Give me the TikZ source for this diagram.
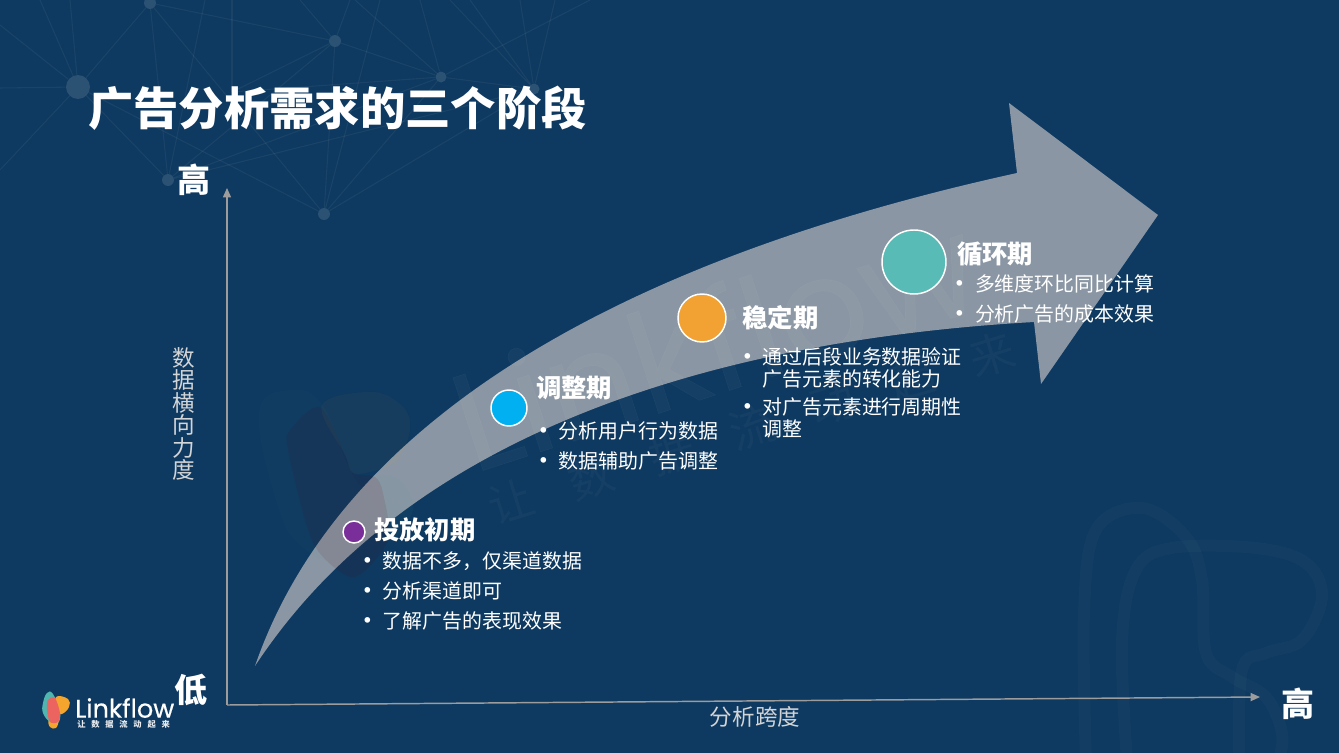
\documentclass[tikz,border=0pt]{standalone}
\usepackage{fontspec}
\setmainfont{Noto Sans CJK SC}
\newfontfamily\logofont[FakeBold=.5]{Poppins}
\newfontfamily\sloganfont[LetterSpace=70]{Noto Sans CJK SC}
\newfontfamily\marksloganfont[LetterSpace=85]{Noto Sans CJK SC}
\usetikzlibrary{positioning}
\usetikzlibrary{arrows.meta}
\definecolor{slidebg}{HTML}{0E3960}
\definecolor{bandgray}{HTML}{8A96A3}
\definecolor{axisgray}{HTML}{9C9C9C}
\definecolor{labelgray}{HTML}{D2D4D6}
\definecolor{stageone}{HTML}{7A2E9A}
\definecolor{stagetwo}{HTML}{00B0F0}
\definecolor{stagethree}{HTML}{F2A233}
\definecolor{stagefour}{HTML}{59BBB5}
\definecolor{logoteal}{HTML}{4FB5AE}
\definecolor{logored}{HTML}{EB6460}
\definecolor{logoorange}{HTML}{F4A52E}
\newcommand{\TitleSize}{\fontsize{34}{38}\bfseries\selectfont}
\newcommand{\HeadSize}{\fontsize{19}{22}\bfseries\selectfont}
\newcommand{\BodySize}{\fontsize{14.95}{16.5}\selectfont}
\newcommand{\AxisSize}{\fontsize{16.9}{16.9}\selectfont}
\newcommand{\EndSize}{\fontsize{24.8}{28}\bfseries\selectfont}
\newcommand{\Dot}{\llap{\makebox[0pt][c]{\fontsize{20}{20}\selectfont\raisebox{-1.5pt}{•}}\hspace{11.25pt}}}
\tikzstyle{stage} = [circle,draw=white,line width=1.1pt,inner sep=0pt]
\tikzstyle{stagehead} = [text=white,inner sep=0pt,font=\HeadSize]
\tikzstyle{point} = [text=white,inner sep=0pt,align=left,font=\BodySize]
\tikzstyle{axisline} = [axisgray,line width=1.1pt,-{Triangle[length=7pt,width=6pt]}]
\tikzstyle{axislabel} = [text=labelgray,inner sep=0pt,align=center,font=\AxisSize]
\tikzstyle{axisend} = [text=white,inner sep=0pt,font=\EndSize]
\tikzstyle{netdot} = [circle,fill=white,fill opacity=.12,inner sep=0pt]
\tikzstyle{netline} = [white,opacity=.055,line width=.8pt]

\begin{document}
\begin{tikzpicture}[x=.75pt,y=-.75pt]
\path[use as bounding box,clip] (0,0) rectangle (1339,753);
\fill[slidebg] (0,0) rectangle (1339,753);

% Network behind the title
\node[netdot, minimum size=24pt*.75] (n1) at (78,87) {};
\node[netdot, minimum size=12pt*.75] (n2) at (150,3) {};
\node[netdot, minimum size=12pt*.75] (n3) at (335,41) {};
\node[netdot, minimum size=11pt*.75] (n4) at (441,77) {};
\node[netdot, minimum size=12pt*.75] (n5) at (168,180) {};
\node[netdot, minimum size=12pt*.75] (n6) at (324,214) {};
\node[netdot, minimum size=11pt*.75] (n7) at (534,89) {};
\foreach \name/\pos in {e1/{40,0},e2/{70,0},e3/{0,25},e4/{0,88},e5/{0,170},e6/{205,0},e7/{300,0},
	e8/{350,0},e9/{355,0},e10/{420,0},e11/{232,0},e12/{232,92},e13/{450,0},e14/{520,0},e15/{555,0},
	e16/{590,0},e17/{380,0},e18/{470,0}}
	\coordinate (\name) at (\pos);
\foreach \from/\to in {n2/n1,n2/n3,n2/n5,n2/n6,n1/e1,n1/e2,n1/e3,n1/e4,n1/e5,n1/n5,n1/n6,
	n3/n4,n3/n5,n3/e12,n3/e7,n3/e8,n3/n6,n4/e12,n4/e9,n4/e10,n4/n5,n4/n6,n4/e16,n5/e6,n5/n7,
	n6/e17,e11/e12,n7/e13,n7/e14,n7/e15,n7/n4,n7/n6,n7/e18}
	\draw[netline] (\from) -- (\to);

% Watermark outlines, bottom right
\draw[white,opacity=.025,line width=9pt] plot[smooth,tension=.6] coordinates {(1086,760) (1084,613) (1096,530) (1142,508) (1186,537) (1202,580) (1206,653) (1232,677) (1266,697) (1282,733) (1279,760)};
\draw[white,opacity=.025,line width=9pt] plot[smooth,tension=.6] coordinates {(1127,760) (1122,640) (1136,570) (1172,548) (1256,548) (1306,563) (1322,597) (1302,640) (1266,653) (1242,670) (1239,760)};

% Band
\coordinate (tail) at (255,666);
\coordinate (uppernotch) at (1017,173);
\coordinate (headtop) at (1009,103);
\coordinate (headtip) at (1158,215);
\coordinate (headbottom) at (1041,384);
\coordinate (lowernotch) at (1034,322);
\fill[bandgray] (tail) .. controls (340,420) and (620,260) .. (uppernotch)
	-- (headtop) -- (headtip) -- (headbottom) -- (lowernotch)
	.. controls (720,340) and (410,430) .. (tail) -- cycle;

% Watermark logo and words
\fill[logoteal,opacity=.03] plot[smooth cycle,tension=.7] coordinates {(259,413) (290,390) (322,405) (350,470) (378,520) (340,560) (300,545) (277,503)};
\fill[logoorange,opacity=.04] plot[smooth cycle,tension=.6] coordinates {(322,405) (373,392) (403,407) (410,430) (397,460) (377,470) (353,473) (345,455)};
\fill[logoteal,opacity=.05] plot[smooth cycle,tension=.7] coordinates {(375,477) (400,480) (413,510) (388,540) (383,493)};
\fill[red!35!black,opacity=.09] plot[smooth cycle,tension=.5] coordinates {(320,407) (290,430) (288,450) (307,527) (323,557) (355,577) (388,540) (383,493) (375,477) (353,473) (345,455)};
\node[white,opacity=.03,rotate=18,font=\logofont\fontsize{105}{105}\selectfont] (markname) at (714,340) {Linkflow};
\node[white,opacity=.03,rotate=17,font=\marksloganfont\fontsize{34}{34}\selectfont] (markslogan) at (752,428) {让数据流动起来};

% Title and axes
\node[text=white,inner sep=0pt,anchor=west,font=\TitleSize] (title) at (88,108) {广告分析需求的三个阶段};
\coordinate (origin) at (227,705);
\coordinate (ytip) at (227,188);
\coordinate (xtip) at (1260,697);
\draw[axisline] (origin) -- (ytip);
\draw[axisline] (origin) -- (xtip);
\node[axisend] (yhigh) at (194,180) {高};
\node[axisend] (ylow)  at (191,690) {低};
\node[axisend] (xhigh) at (1298,704) {高};
\node[axislabel] (ylabel) at (184,414) {数\\据\\横\\向\\力\\度};
\node[axislabel] (xlabel) at (755,717) {分析跨度};

% Stages
\node[stage, fill=stageone,   minimum size=16.5pt] (s1) at (354,532) {};
\node[stage, fill=stagetwo,   minimum size=27pt]   (s2) at (509,408) {};
\node[stage, fill=stagethree, minimum size=36pt]   (s3) at (702,318) {};
\node[stage, fill=stagefour,  minimum size=48pt]   (s4) at (914,262) {};

\node[stagehead, right = 6pt of s1, yshift=1.5pt]    (h1) {投放初期};
\node[stagehead, right = 6pt of s2, yshift=15pt]     (h2) {调整期};
\node[stagehead, right = 11.5pt of s3, yshift=0pt]   (h3) {稳定期};
\node[stagehead, right = 7.5pt of s4, yshift=6pt]    (h4) {循环期};

\node[point, below = 23pt of h1.west, xshift=6.5pt, anchor=west] (p11) {\Dot 数据不多，仅渠道数据};
\node[point, below = 22.5pt of p11.west, anchor=west]          (p12) {\Dot 分析渠道即可};
\node[point, below = 22.5pt of p12.west, anchor=west]          (p13) {\Dot 了解广告的表现效果};

\node[point, below = 32pt of h2.west, xshift=17pt, anchor=west] (p21) {\Dot 分析用户行为数据};
\node[point, below = 22.5pt of p21.west, anchor=west]           (p22) {\Dot 数据辅助广告调整};

\node[point, below = 30pt of h3.west, xshift=15pt, anchor=north west, yshift=8pt] (p31) {\Dot 通过后段业务数据验证\\广告元素的转化能力};
\node[point, below = 7pt of p31.south west, anchor=north west]  (p32) {\Dot 对广告元素进行周期性\\调整};

\node[point, below = 22.5pt of h4.west, xshift=13.5pt, anchor=west] (p41) {\Dot 多维度环比同比计算};
\node[point, below = 22.5pt of p41.west, anchor=west]               (p42) {\Dot 分析广告的成本效果};

% Logo
\fill[logoteal] plot[smooth cycle,tension=.7] coordinates {(43,703) (47,693) (53,694) (60,712) (58,723) (50,722) (43,713)};
\fill[logoorange] plot[smooth cycle,tension=.7] coordinates {(56,697) (68,699) (69,707) (62,714) (56,712)};
\fill[logoorange] plot[smooth cycle,tension=.7] coordinates {(49,720) (58,720) (56,728) (50,727)};
\fill[logored] plot[smooth cycle,tension=.5] coordinates {(48,700) (55,698) (60,713) (58,722) (50,722) (47,710)};
\node[text=white,inner sep=0pt,anchor=west,font=\logofont\fontsize{19.2}{20}\selectfont] (logoname) at (75,708) {Linkflow};
\node[text=white!90!slidebg,inner sep=0pt,anchor=west,font=\sloganfont\bfseries\fontsize{6.2}{7}\selectfont] (logoslogan) at (77,724) {让数据流动起来};
\end{tikzpicture}
\end{document}
